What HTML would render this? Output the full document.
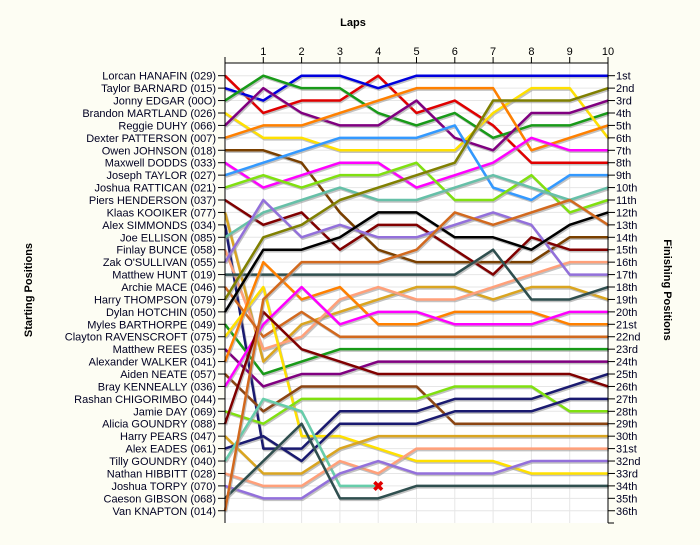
<!DOCTYPE html>
<html><head><meta charset="utf-8">
<style>
html,body{margin:0;padding:0;background:#fdfdf3;}
body{width:700px;height:540px;overflow:hidden;font-family:"Liberation Sans",sans-serif;}
svg text{font-family:"Liberation Sans",sans-serif;}
</style></head>
<body>
<svg id="chart" width="700" height="540" xmlns="http://www.w3.org/2000/svg">
<rect x="225" y="63" width="383" height="460" fill="#ffffff"/>
<g id="grid"></g>
<g id="series"></g>
<g id="axes"></g>
<text x="353" y="26" text-anchor="middle" font-size="11" font-weight="bold">Laps</text>
<text transform="translate(32,290) rotate(-90)" text-anchor="middle" font-size="11" font-weight="bold">Starting Positions</text>
<text transform="translate(664,290) rotate(90)" text-anchor="middle" font-size="11" font-weight="bold">Finishing Positions</text>
</svg>
<script>
const laps = [0,1,2,3,4,5,6,7,8,9,10];
const drivers = ["Lorcan HANAFIN (029)","Taylor BARNARD (015)","Jonny EDGAR (00O)","Brandon MARTLAND (026)","Reggie DUHY (066)","Dexter PATTERSON (007)","Owen JOHNSON (018)","Maxwell DODDS (033)","Joseph TAYLOR (027)","Joshua RATTICAN (021)","Piers HENDERSON (037)","Klaas KOOIKER (077)","Alex SIMMONDS (034)","Joe ELLISON (085)","Finlay BUNCE (058)","Zak O'SULLIVAN (055)","Matthew HUNT (019)","Archie MACE (046)","Harry THOMPSON (079)","Dylan HOTCHIN (050)","Myles BARTHORPE (049)","Clayton RAVENSCROFT (075)","Matthew REES (035)","Alexander WALKER (041)","Aiden NEATE (057)","Bray KENNEALLY (036)","Rashan CHIGORIMBO (044)","Jamie DAY (069)","Alicia GOUNDRY (088)","Harry PEARS (047)","Alex EADES (061)","Tilly GOUNDRY (040)","Nathan HIBBITT (028)","Joshua TORPY (070)","Caeson GIBSON (068)","Van KNAPTON (014)"];
const finishLabels = ["1st","2nd","3rd","4th","5th","6th","7th","8th","9th","10th","11th","12th","13th","14th","15th","16th","17th","18th","19th","20th","21st","22nd","23rd","24th","25th","26th","27th","28th","29th","30th","31st","32nd","33rd","34th","35th","36th"];
const seriesColors = ["#e00000","#0000dd","#189a18","#ffe000","#800080","#ff8000","#7a4000","#ff00ff","#3399ff","#80e010","#800000","#daa520","#1a1a70","#66c0a8","#ffa07a","#9370db","#2f4f4f","#d2691e","#808000","#000000","#189a18","#ffe000","#800080","#ff8000","#8b4513","#ff00ff","#80e010","#800000","#daa520","#1a1a70","#66cdaa","#ffa07a","#9370db","#2f4f4f","#d2691e"];
const posRed     = [1,4,3,3,1,4,3,5,8,8,8];
const posBlue    = [2,3,1,1,2,1,1,1,1,1,1];
const posGreen   = [3,1,2,2,4,5,4,6,5,5,4];
const posYellow  = [4,6,6,7,7,7,7,4,2,2,6];
const posPurple  = [5,2,4,5,5,3,6,7,4,4,3];
const posOrange  = [6,5,5,4,3,2,2,2,7,6,5];
const posBrown   = [7,7,8,12,15,16,16,16,16,14,14];
const posMagenta = [8,10,9,8,8,10,9,8,6,7,7];
const posDodger  = [9,8,7,6,6,6,5,10,11,9,9];
const posLime    = [10,9,10,9,9,8,11,11,9,12,11];
const posDarkRed = [11,13,12,15,13,13,15,17,14,15,15];
const posGold    = [12,24,21,20,19,18,18,19,18,18,19];
const posNavyA   = [13,31,31,28,28,28,27,27,27,26,25];
const posTeal    = [14,12,11,10,11,11,10,9,10,11,10];
const posSalmon  = [15,23,22,19,18,19,19,18,17,16,16];
const posLav     = [16,11,14,13,14,14,13,12,13,17,17];
const posSlate   = [17,17,17,17,17,17,17,15,19,19,18];
const posChoc    = [18,22,20,22,22,22,22,22,22,22,22];
const posOlive   = [19,14,13,11,10,9,8,3,3,3,2];
const posBlack   = [20,15,15,14,12,12,14,14,15,13,12];
const posGreen2  = [21,25,24,23,23,23,23,23,23,23,23];
const posYellow2 = [22,18,30,30,31,32,32,32,33,33,33];
const posPurple2 = [23,26,25,25,24,24,24,24,24,24,24];
const posOrange2 = [24,16,19,18,21,21,20,20,20,21,21];
const posBrown2  = [25,28,26,26,26,26,29,29,29,29,29];
const posMag2    = [26,21,18,21,20,20,21,21,21,20,20];
const posLime2   = [28,29,27,27,27,27,26,26,26,28,28];
const posDarkRed2= [29,20,23,24,25,25,25,25,25,25,26];
const posGold2   = [30,33,33,31,30,30,30,30,30,30,30];
const posNavyB   = [31,30,32,29,29,29,28,28,28,27,27];
const posAqua    = [32,27,28,34,34];
const posSalmon2 = [33,34,34,32,33,31,31,31,31,31,31];
const posLav2    = [34,35,35,33,32,33,33,33,32,32,32];
const posSlate2  = [35,32,29,35,35,34,34,34,34,34,34];
const posChoc2   = [36,19,16,16,16,15,12,13,12,11,13];
const allSeries = [posRed,posBlue,posGreen,posYellow,posPurple,posOrange,posBrown,posMagenta,posDodger,posLime,posDarkRed,posGold,posNavyA,posTeal,posSalmon,posLav,posSlate,posChoc,posOlive,posBlack,posGreen2,posYellow2,posPurple2,posOrange2,posBrown2,posMag2,posLime2,posDarkRed2,posGold2,posNavyB,posAqua,posSalmon2,posLav2,posSlate2,posChoc2];
const retiredSeries = [posAqua];

const NS="http://www.w3.org/2000/svg";
const X0=225, X1=608, Y1=75.7, YSTEP=12.43;
function xScale(l){return X0+(X1-X0)*l/10;}
function yScale(p){return Y1+(p-1)*YSTEP;}
function mk(tag,attrs,parent){const e=document.createElementNS(NS,tag);for(const k in attrs)e.setAttribute(k,attrs[k]);parent.appendChild(e);return e;}
const grid=document.getElementById('grid'), axes=document.getElementById('axes'), sg=document.getElementById('series');

laps.forEach(l=>{
  const g=mk('line',{x1:xScale(l),x2:xScale(l),y1:63,y2:523,stroke:'#e6e6e6','stroke-width':1},grid);
  
  
});
finishLabels.forEach((f,i)=>{
  const g=mk('line',{x1:X0,x2:X1,y1:yScale(i+1),y2:yScale(i+1),stroke:'#e6e6e6','stroke-width':1},grid);
  
  
});
// axes
[[X0,63,X1,63],[X0,63,X0,523],[X1,63,X1,523],[X1,523,X1+6,523]].forEach(a=>{
  const ln=mk('line',{x1:a[0],y1:a[1],x2:a[2],y2:a[3],stroke:'#000','stroke-width':1},axes);
  
  
});
laps.forEach(l=>{
  const t=mk('line',{x1:xScale(l),x2:xScale(l),y1:57,y2:63,stroke:'#000'},axes);
  
  
  if(l>0){
    const tx=mk('text',{x:xScale(l),y:55,'text-anchor':'middle','font-size':11,fill:'#000'},axes);
    tx.textContent=l;
    
    
  }
});
drivers.forEach((d,i)=>{
  const y=yScale(i+1);
  const t=mk('line',{x1:X0-7,x2:X0,y1:y,y2:y,stroke:'#000'},axes);
  
  
  const tx=mk('text',{x:X0-9,y:y+4,'text-anchor':'end','font-size':11,fill:'#000022'},axes);
  tx.textContent=d;
  
  
});
finishLabels.forEach((f,i)=>{
  const y=yScale(i+1);
  const t=mk('line',{x1:X1,x2:X1+7,y1:y,y2:y,stroke:'#000'},axes);
  
  
  const tx=mk('text',{x:X1+8,y:y+4,'font-size':11,fill:'#000022'},axes);
  tx.textContent=f;
  
  
});
// series
allSeries.forEach((s,i)=>{
  const pts=s.map((p,k)=>xScale(laps[k])+','+yScale(p)).join(' ');
  const sh=mk('polyline',{points:s.map((p,k)=>(xScale(laps[k])+1)+','+(yScale(p)+1.5)).join(' '),fill:'none',stroke:'#999','stroke-opacity':0.6,'stroke-width':2.5,'stroke-linejoin':'round'},sg);
  
  
  const pl=mk('polyline',{points:pts,fill:'none',stroke:seriesColors[i],'stroke-width':2.5,'stroke-linejoin':'round'},sg);
  
  
});
retiredSeries.forEach(s=>{
  const k=s.length-1;
  const m=mk('text',{x:xScale(laps[k]),y:yScale(s[k])+5,'text-anchor':'middle','font-size':14,'font-weight':'bold',fill:'#e00000'},sg);
  m.textContent='✖';
  
  
});
</script>
</body></html>
